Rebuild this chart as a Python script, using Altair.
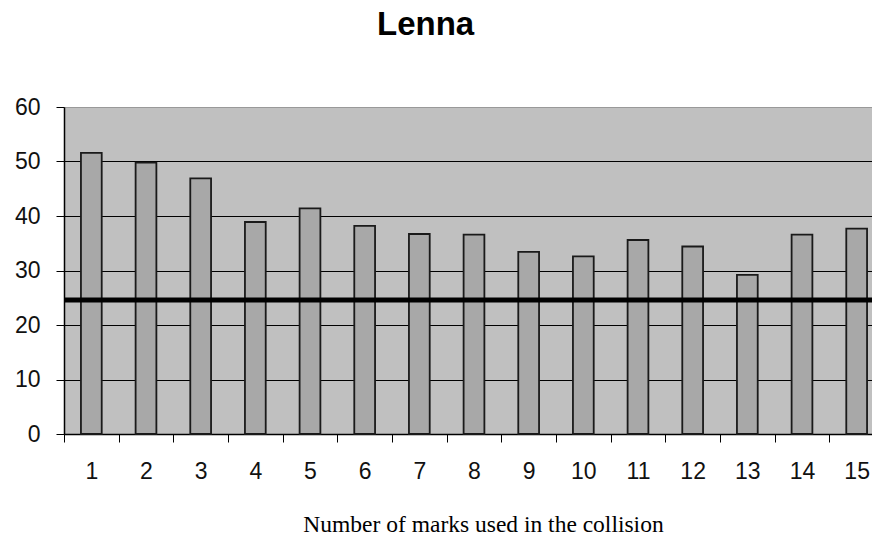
import altair as alt
import pandas as pd

categories = [str(i) for i in range(1, 16)]
values = [51.6, 49.8, 46.9, 38.9, 41.4, 38.2, 36.7, 36.6, 33.4, 32.6, 35.6, 34.4, 29.2, 36.6, 37.7]
threshold = [24.6]

df = pd.DataFrame({"marks": categories, "value": values})
df_line = pd.DataFrame({"y": threshold})

step = 820 / 15

x_enc = alt.X(
    "marks:N",
    sort=categories,
    scale=alt.Scale(paddingInner=0.62, paddingOuter=0.31),
    axis=alt.Axis(
        title="Number of marks used in the collision",
        titleFont="Liberation Serif",
        titleFontSize=23.5,
        titleFontWeight="normal",
        titleColor="#000",
        titlePadding=29,
        titleX=419,
        titleAnchor="middle",
        labelAngle=0,
        labelFont="Liberation Sans",
        labelFontSize=23,
        labelColor="#111",
        labelPadding=18,
        tickOffset=-step / 2,
        labelOffset=step / 2,
        tickSize=8,
        tickColor="#000",
        domainColor="#000",
        domainWidth=1.5,
        grid=False,
    ),
)

y_enc = alt.Y(
    "value:Q",
    scale=alt.Scale(domain=[0, 60], nice=False),
    axis=alt.Axis(
        title=None,
        values=[0, 10, 20, 30, 40, 50, 60],
        labelFont="Liberation Sans",
        labelFontSize=23,
        labelColor="#111",
        labelPadding=16,
        tickSize=8,
        tickColor="#000",
        domainColor="#000",
        domainWidth=1.5,
        grid=True,
        gridColor={"condition": {"test": "datum.value == 60", "value": "#999999"}, "value": "#000000"},
        gridWidth=1,
    ),
)

bars = alt.Chart(df).mark_bar(
    color="#A8A8A8", stroke="#1A1A1A", strokeWidth=1.8
).encode(x=x_enc, y=y_enc)

line = alt.Chart(df_line).mark_rule(color="#000000", strokeWidth=5).encode(y="y:Q")

chart = alt.layer(bars, line).properties(
    width=820,
    height=327,
    title=alt.TitleParams(
        text="Lenna",
        anchor="start",
        frame="group",
        dx=313,
        dy=-50,
        font="Liberation Sans",
        fontSize=33,
        fontWeight="bold",
        color="#000",
    ),
    autosize=alt.AutoSizeParams(type="none"),
    padding={"left": 56, "top": 99, "right": -12, "bottom": 100},
    background="#FFFFFF",
).configure_view(
    fill="#C0C0C0", stroke="#999999", strokeWidth=1
)

chart.save("out.html", embed_options={"renderer": "svg", "actions": False})
